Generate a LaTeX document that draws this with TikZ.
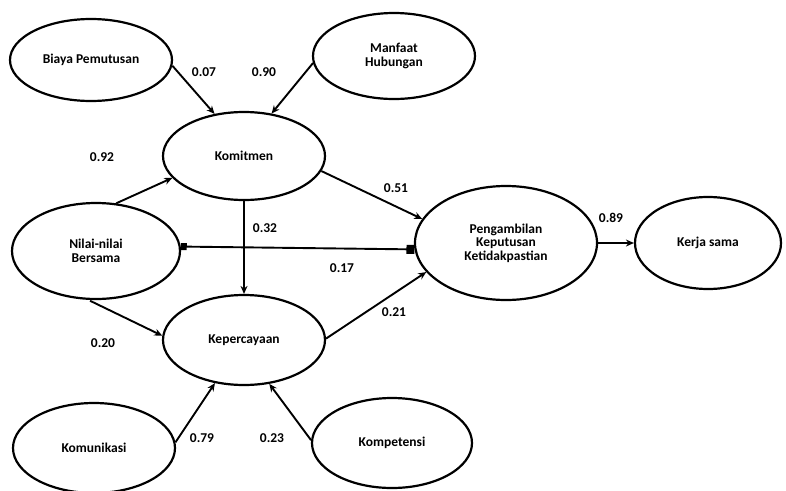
\documentclass[tikz,border=0pt]{standalone}
\usepackage{fontspec}
\setmainfont{Carlito}
\usetikzlibrary{arrows.meta,shapes.geometric}
\begin{document}
\begin{tikzpicture}[x=1pt,y=-1pt,
  ell/.style={draw=black,line width=2.2pt,ellipse,inner sep=0pt,align=center,
    font=\fontsize{13.5}{13.5}\selectfont\bfseries},
  conn/.style={line width=1.9pt,-{Stealth[length=8pt,width=7pt]}},
  coef/.style={font=\fontsize{13.5}{14}\selectfont\bfseries}]
\useasboundingbox (0,0) rectangle (786,490);
% nodes
\node[ell,minimum width=162pt,minimum height=82pt] (biaya) at (91,60) {Biaya Pemutusan};
\node[ell,minimum width=162pt,minimum height=86pt] (manfaat) at (394,56) {Manfaat\\Hubungan};
\node[ell,minimum width=162pt,minimum height=88pt] (komitmen) at (244,156) {Komitmen};
\node[ell,minimum width=168pt,minimum height=96pt] (nilai) at (96,251) {Nilai-nilai\\Bersama};
\node[ell,minimum width=162pt,minimum height=90pt] (percaya) at (244,340) {Kepercayaan};
\node[ell,minimum width=182pt,minimum height=114pt] (ambil) at (506,243) {Pengambilan\\Keputusan\\Ketidakpastian};
\node[ell,minimum width=146pt,minimum height=92pt] (kerja) at (708,243) {Kerja sama};
\node[ell,minimum width=162pt,minimum height=90pt] (komunikasi) at (94,448) {Komunikasi};
\node[ell,minimum width=160pt,minimum height=90pt] (kompetensi) at (392,443) {Kompetensi};
% connectors
\draw[conn] (biaya.-4) -- (komitmen.125);
\draw[conn] (manfaat.185) -- (komitmen.57);
\draw[conn] (nilai.67) -- (komitmen.197);
\draw[conn] (komitmen.-11) -- (ambil.164);
\draw[conn] (komitmen.south) -- (percaya.north);
\draw[line width=1.9pt,{Square[length=6pt,width=7pt]}-{Square[length=8pt,width=9pt]}] (nilai.3) -- (ambil.184);
\draw[conn,shorten <=2pt] (nilai.-99) -- (percaya.177);
\draw[conn] (percaya.1) -- (ambil.200);
\draw[conn] (ambil.east) -- (kerja.west);
\draw[conn] (komunikasi.4) -- (percaya.236);
\draw[conn] (kompetensi.178) -- (percaya.-60);
% coefficients
\node[coef] (c1) at (204,72) {0.07};
\node[coef] (c2) at (264,72) {0.90};
\node[coef] (c3) at (102,157) {0.92};
\node[coef] (c4) at (396,188) {0.51};
\node[coef] (c5) at (265,228) {0.32};
\node[coef] (c6) at (342,268) {0.17};
\node[coef] (c7) at (394,312) {0.21};
\node[coef] (c8) at (103,343) {0.20};
\node[coef] (c9) at (611,218) {0.89};
\node[coef] (c10) at (202,438) {0.79};
\node[coef] (c11) at (272,438) {0.23};
\end{tikzpicture}
\end{document}
